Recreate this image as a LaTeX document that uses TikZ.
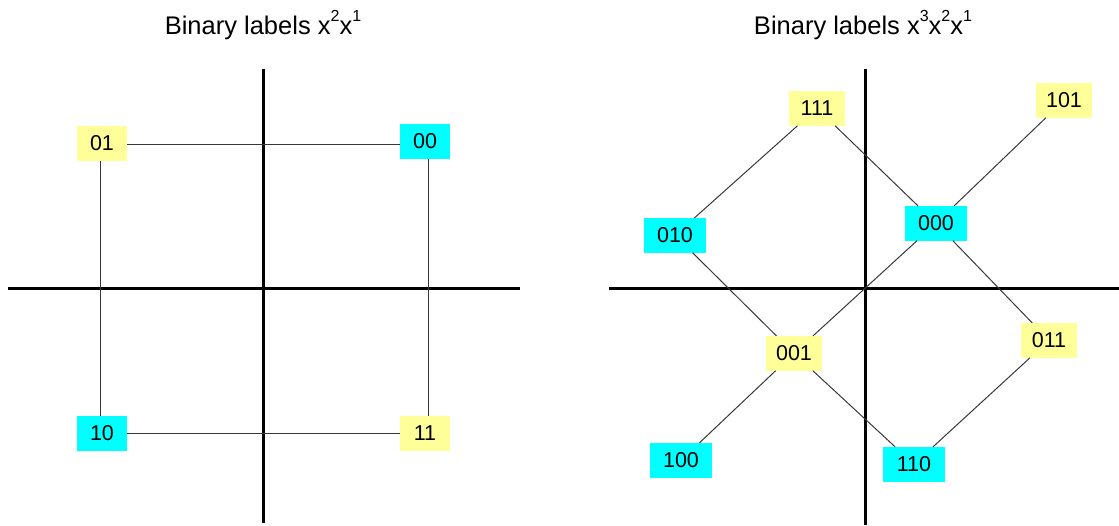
\documentclass[tikz,border=0pt]{standalone}
\usepackage{fontspec}
\setmainfont{Liberation Sans}
\definecolor{yel}{HTML}{FFFF99}
\definecolor{cyn}{HTML}{00FFFF}
\definecolor{edgecol}{HTML}{383838}
\newcommand\mysup[1]{\raisebox{13pt}{\fontsize{16}{16}\selectfont #1}}
\begin{document}
\begin{tikzpicture}[x=1pt,y=-1pt,
  lab/.style={inner sep=0pt, minimum height=34.5pt, font=\fontsize{21.5}{24}\selectfont},
  ylab2/.style={lab, fill=yel, minimum width=50pt},
  clab2/.style={lab, fill=cyn, minimum width=50pt},
  ylab3/.style={lab, fill=yel, minimum width=56pt},
  clab3/.style={lab, fill=cyn, minimum width=62pt},
  axisline/.style={line width=3pt, black},
  edgeline/.style={line width=1pt, edgecol},
  titlestyle/.style={anchor=base, inner sep=0pt, font=\fontsize{25.5}{30}\selectfont}]
\useasboundingbox (0,0) rectangle (1119,525);
% titles
\node[titlestyle] (t1) at (263,34.7) {Binary labels x\mysup{2}x\mysup{1}};
\node[titlestyle] (t2) at (863,34.7) {Binary labels x\mysup{3}x\mysup{2}x\mysup{1}};
% axes left
\coordinate (lxa) at (8,288.5);
\coordinate (lxb) at (520,288.5);
\coordinate (lya) at (263.5,69);
\coordinate (lyb) at (263.5,523);
\draw[axisline] (lxa) -- (lxb);
\draw[axisline] (lya) -- (lyb);
% axes right
\coordinate (rxa) at (609,288.5);
\coordinate (rxb) at (1119,288.5);
\coordinate (rya) at (865.5,69);
\coordinate (ryb) at (865.5,525);
\draw[axisline] (rxa) -- (rxb);
\draw[axisline] (rya) -- (ryb);
% left nodes
\node[ylab2] (n01) at (102,143.3) {01};
\node[clab2] (n00) at (425,141.3) {00};
\node[clab2] (n10) at (102,433.3) {10};
\node[ylab2] (n11) at (425,433.3) {11};
\draw[edgeline] ([yshift=-0.8pt]n01.east) -- ([yshift=-0.8pt]n01.east -| n00.west);
\draw[edgeline] (n10) -- (n11);
\draw[edgeline] ([xshift=-2pt]n01.south) -- ([xshift=-2pt]n10.north);
\draw[edgeline] ([xshift=3pt]n00.south) -- ([xshift=3pt]n11.north);
% right nodes
\node[ylab3] (m111) at (817,108.3) {111};
\node[ylab3] (m101) at (1064,100.3) {101};
\node[clab3] (m010) at (675,235.3) {010};
\node[clab3] (m000) at (936,223.3) {000};
\node[ylab3] (m001) at (794,353.3) {001};
\node[ylab3] (m011) at (1049,340.3) {011};
\node[clab3] (m100) at (681,460.3) {100};
\node[clab3] (m110) at (914,464.3) {110};
\draw[edgeline] (m010) -- (m111);
\draw[edgeline] (m111) -- (m000);
\draw[edgeline] (m000) -- (m101);
\draw[edgeline] (m000) -- (m001);
\draw[edgeline] (m010) -- (m001);
\draw[edgeline] (m000) -- (m011);
\draw[edgeline] (m001) -- (m100);
\draw[edgeline] (m001) -- (m110);
\draw[edgeline] (m011) -- (m110);
\end{tikzpicture}
\end{document}
